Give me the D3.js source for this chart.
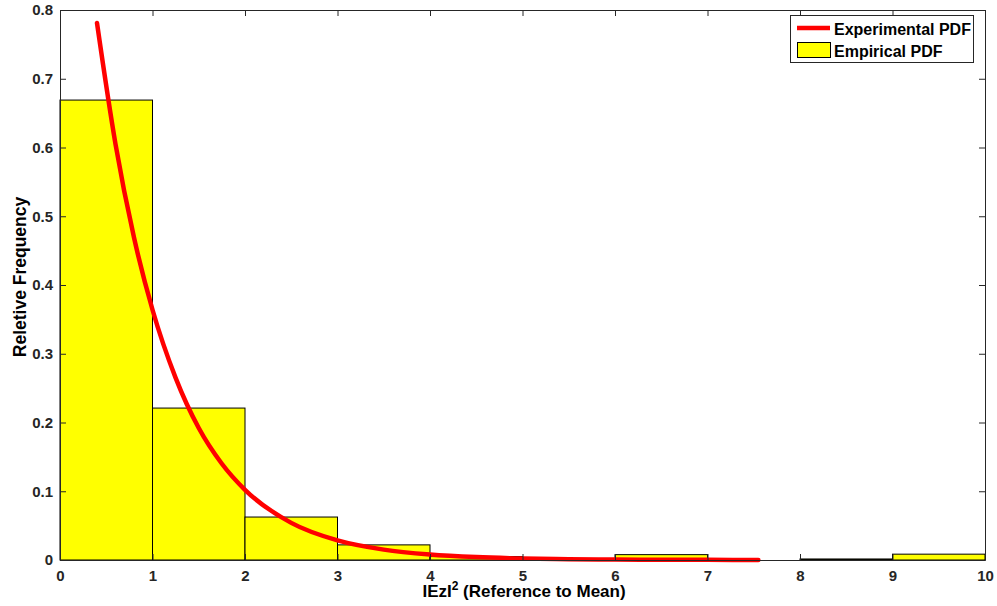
<!DOCTYPE html>
<html><head><meta charset="utf-8">
<script src="https://cdn.jsdelivr.net/npm/d3@7"></script>
<style>
body{margin:0;background:#fff;}
text{font-family:"Liberation Sans",Arial,Helvetica,sans-serif;font-weight:bold;}
</style></head>
<body><svg id="chart" width="997" height="606"></svg>
<script>
// Histogram bins (edges) and relative frequencies
const binEdges = [0,1,2,3,4,5,6,7,8,9,10];
const binFreq = [0.669,0.221,0.0625,0.022,0.005,0.0015,0.0078,0,0.0015,0.0085];
// Experimental PDF curve points
const curveX = [0.4,0.6,0.8,1.0,1.25,1.5,1.75,2.0,2.5,3.0,3.5,4.0,4.5,5.0,5.5,6.0,6.5,7.0,7.55];
const curveY = [0.781,0.605,0.469,0.364,0.265,0.192,0.140,0.102,0.054,0.0285,0.0151,0.0080,0.0042,0.0022,0.0012,0.0006,0.0003,0.0002,0.0001];
const xTicks = [0,1,2,3,4,5,6,7,8,9,10];
const yTicks = [0,0.1,0.2,0.3,0.4,0.5,0.6,0.7,0.8];
const legendLabels = ["Experimental PDF","Empirical PDF"];

const svg = d3.select("#chart");
const L=60, R=985, T=10, B=560;
const x = d3.scaleLinear().domain([0,10]).range([L,R]);
const y = d3.scaleLinear().domain([0,0.8]).range([B,T]);
const axisCol = "#262626";

// bars
const bins = binFreq.map((v,i)=>({x0:binEdges[i],x1:binEdges[i+1],v}));
svg.append("g").selectAll("rect").data(bins).join("rect")
  .attr("x",d=>x(d.x0)).attr("y",d=>y(d.v))
  .attr("width",d=>x(d.x1)-x(d.x0)).attr("height",d=>y(0)-y(d.v))
  .attr("fill","#ffff00").attr("stroke","#000").attr("stroke-width",1);

// curve
const pts = curveX.map((cx,i)=>[cx,curveY[i]]);
svg.append("path").datum(pts)
  .attr("d",d3.line().x(d=>x(d[0])).y(d=>y(d[1])).curve(d3.curveMonotoneX))
  .attr("fill","none").attr("stroke","#ff0000").attr("stroke-width",4.5).attr("stroke-linecap","round");

// axes
const fs = 15;
const xb = svg.append("g").attr("transform",`translate(0,${B})`)
  .call(d3.axisBottom(x).tickValues(xTicks).tickFormat(d3.format("d")).tickSizeInner(-6).tickSizeOuter(0).tickPadding(10));
const xt = svg.append("g").attr("transform",`translate(0,${T})`)
  .call(d3.axisTop(x).tickValues(xTicks).tickFormat("").tickSizeInner(-6).tickSizeOuter(0));
const yl = svg.append("g").attr("transform",`translate(${L},0)`)
  .call(d3.axisLeft(y).tickValues(yTicks).tickFormat(d=>d===0?"0":d3.format(".1f")(d)).tickSizeInner(-6).tickSizeOuter(0).tickPadding(7));
const yr = svg.append("g").attr("transform",`translate(${R},0)`)
  .call(d3.axisRight(y).tickValues(yTicks).tickFormat("").tickSizeInner(-6).tickSizeOuter(0));
[xb,xt,yl,yr].forEach(g=>{
  g.selectAll("path").attr("stroke",axisCol);
  g.selectAll("line").attr("stroke",axisCol);
  g.selectAll("text").attr("fill",axisCol).style("font-size",fs+"px").style("font-family","Liberation Sans, Arial, sans-serif").style("font-weight","bold");
});
xb.selectAll("text").attr("dy","0.71em");

// axis labels
svg.append("text").attr("x",524).attr("y",597).attr("text-anchor","middle")
  .style("font-size","17px").attr("fill","#000")
  .call(t=>{t.append("tspan").text("IEzI");
            t.append("tspan").attr("dy",-7).style("font-size","12px").text("2");
            t.append("tspan").attr("dy",7).text(" (Reference to Mean)");});
svg.append("text").attr("transform","translate(25.5,277) rotate(-90)").attr("text-anchor","middle")
  .style("font-size","17.5px").attr("fill","#000").text("Reletive Frequency");

// legend
const lg = svg.append("g");
lg.append("rect").attr("x",790.5).attr("y",15.5).attr("width",183).attr("height",47)
  .attr("fill","#fff").attr("stroke",axisCol).attr("stroke-width",1);
lg.append("line").attr("x1",797).attr("x2",830).attr("y1",28).attr("y2",28)
  .attr("stroke","#ff0000").attr("stroke-width",4.5);
lg.append("rect").attr("x",797.5).attr("y",42.5).attr("width",33).attr("height",15)
  .attr("fill","#ffff00").attr("stroke","#000");
lg.selectAll("text.lt").data(legendLabels).join("text").attr("class","lt")
  .attr("x",834).attr("y",(d,i)=>35+i*21.5).style("font-size","16px").attr("fill","#000").text(d=>d);
</script></body></html>
